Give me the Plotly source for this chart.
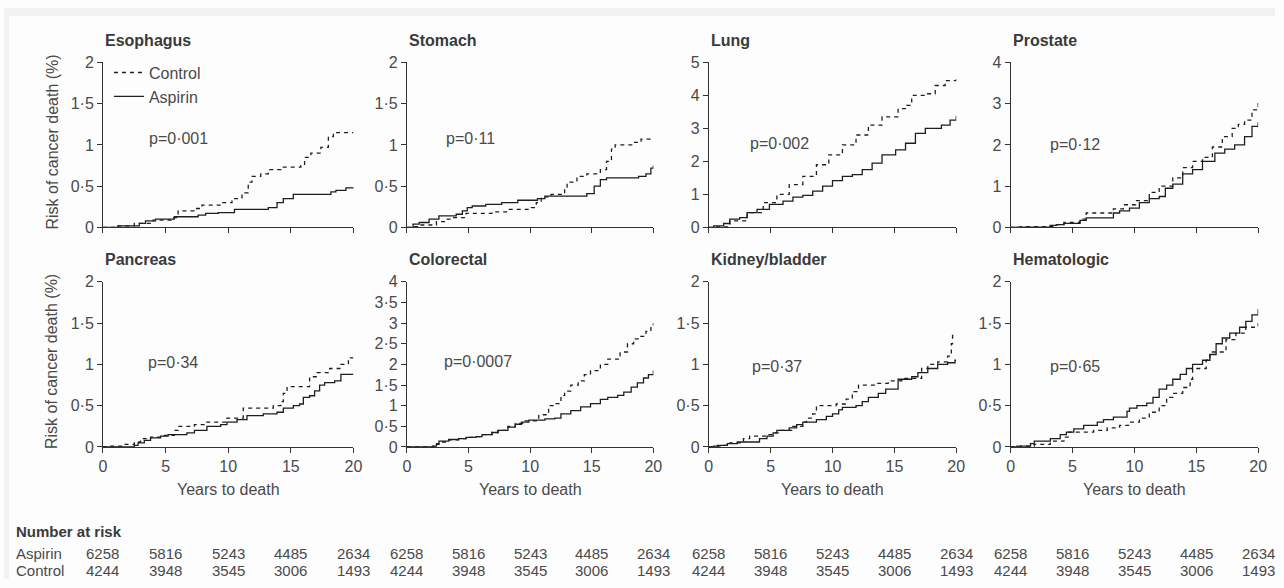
import plotly.graph_objects as go

# ---------------- data ----------------
cancers = ["Esophagus", "Stomach", "Lung", "Prostate",
           "Pancreas", "Colorectal", "Kidney/bladder", "Hematologic"]
p_values = ["p=0·001", "p=0·11", "p=0·002", "p=0·12",
            "p=0·34", "p=0·0007", "p=0·37", "p=0·65"]
y_max = [2, 2, 5, 4, 2, 4, 2, 2]
x_ticks = [0, 5, 10, 15, 20]

esophagus_control_years = [0, 1.2, 2.5, 4.0, 5.5, 6.0, 7.4, 7.9, 9.5, 10.3, 11.1, 11.6, 11.9, 12.6, 13.2, 14.2, 15.8, 16.1, 16.6, 17.4, 18.0, 18.4, 20]
esophagus_control_risk = [0, 0.02, 0.05, 0.09, 0.12, 0.2, 0.23, 0.27, 0.3, 0.35, 0.42, 0.55, 0.62, 0.65, 0.7, 0.73, 0.75, 0.85, 0.9, 0.97, 1.1, 1.15, 1.15]
esophagus_aspirin_years = [0, 1.2, 2.9, 3.4, 4.2, 5.7, 7.6, 8.2, 9.2, 10.5, 13.2, 13.9, 14.4, 15.2, 18.2, 18.6, 19.4, 20]
esophagus_aspirin_risk = [0, 0.02, 0.05, 0.08, 0.1, 0.13, 0.15, 0.17, 0.18, 0.22, 0.24, 0.3, 0.35, 0.4, 0.43, 0.45, 0.48, 0.49]

stomach_control_years = [0, 0.3, 1.0, 2.4, 3.2, 3.7, 4.8, 6.9, 8.2, 10.1, 10.5, 10.9, 11.7, 12.8, 13.0, 13.8, 14.6, 15.7, 16.2, 16.6, 16.9, 18.4, 19.0, 20]
stomach_control_risk = [0, 0.01, 0.03, 0.07, 0.1, 0.12, 0.17, 0.19, 0.22, 0.24, 0.3, 0.37, 0.4, 0.47, 0.55, 0.62, 0.65, 0.7, 0.8, 0.95, 1.0, 1.03, 1.07, 1.07]
stomach_aspirin_years = [0, 0.5, 1.0, 1.8, 2.6, 4.0, 4.5, 4.9, 5.3, 6.4, 7.7, 9.0, 10.6, 11.2, 14.6, 15.2, 15.7, 16.2, 18.8, 19.4, 19.8, 20]
stomach_aspirin_risk = [0, 0.04, 0.06, 0.1, 0.14, 0.16, 0.2, 0.24, 0.26, 0.28, 0.3, 0.33, 0.35, 0.38, 0.41, 0.5, 0.58, 0.6, 0.62, 0.65, 0.72, 0.75]

lung_control_years = [0, 0.4, 1.7, 3.1, 4.4, 5.5, 6.5, 7.6, 8.7, 9.7, 10.8, 11.9, 12.9, 14.0, 15.3, 16.0, 16.4, 17.5, 18.3, 19.1, 20]
lung_control_risk = [0, 0.02, 0.2, 0.45, 0.75, 1.0, 1.3, 1.55, 1.9, 2.2, 2.5, 2.8, 3.1, 3.35, 3.6, 3.7, 4.0, 4.05, 4.3, 4.45, 4.55]
lung_aspirin_years = [0, 0.4, 1.2, 1.7, 2.5, 3.1, 3.9, 4.9, 6.0, 6.8, 7.6, 8.4, 9.2, 10.0, 10.8, 11.6, 12.4, 13.2, 14.0, 15.1, 15.9, 16.7, 17.5, 18.8, 19.5, 20]
lung_aspirin_risk = [0, 0.05, 0.12, 0.25, 0.3, 0.45, 0.55, 0.7, 0.8, 0.92, 0.97, 1.1, 1.25, 1.42, 1.55, 1.6, 1.75, 1.95, 2.2, 2.35, 2.55, 2.85, 3.0, 3.1, 3.25, 3.38]

prostate_control_years = [0, 0.8, 3.0, 3.5, 4.3, 5.6, 6.1, 8.3, 9.1, 10.1, 11.2, 12.0, 13.1, 13.9, 14.7, 15.5, 16.3, 17.1, 17.9, 18.4, 18.9, 19.5, 20]
prostate_control_risk = [0, 0.02, 0.03, 0.07, 0.12, 0.2, 0.35, 0.45, 0.55, 0.65, 0.85, 1.0, 1.2, 1.45, 1.6, 1.7, 1.95, 2.2, 2.4, 2.5, 2.6, 2.85, 3.05]
prostate_aspirin_years = [0, 0.5, 3.2, 3.7, 4.3, 5.6, 6.1, 8.3, 8.8, 9.6, 10.4, 11.2, 12.0, 12.5, 13.1, 13.9, 14.7, 15.5, 16.5, 17.3, 18.1, 18.9, 19.5, 20]
prostate_aspirin_risk = [0, 0.01, 0.05, 0.07, 0.1, 0.17, 0.23, 0.35, 0.4, 0.47, 0.6, 0.7, 0.75, 0.95, 1.05, 1.3, 1.4, 1.6, 1.8, 1.9, 2.0, 2.2, 2.45, 2.55]

pancreas_control_years = [0, 0.4, 1.7, 2.5, 3.0, 3.8, 4.9, 5.7, 6.0, 7.3, 8.3, 9.9, 11.2, 13.6, 14.2, 14.4, 14.7, 16.5, 17.1, 18.1, 19.0, 19.6, 20]
pancreas_control_risk = [0, 0.01, 0.03, 0.06, 0.1, 0.12, 0.14, 0.2, 0.25, 0.27, 0.3, 0.35, 0.47, 0.5, 0.55, 0.65, 0.73, 0.85, 0.9, 0.95, 1.0, 1.08, 1.08]
pancreas_aspirin_years = [0, 2.5, 2.8, 3.3, 3.8, 4.6, 5.2, 6.7, 7.3, 8.3, 9.4, 9.9, 10.7, 11.5, 12.8, 13.9, 14.4, 15.2, 15.7, 16.0, 16.5, 16.9, 17.3, 17.7, 18.5, 19.0, 20]
pancreas_aspirin_risk = [0, 0.02, 0.05, 0.08, 0.11, 0.13, 0.15, 0.17, 0.2, 0.25, 0.27, 0.3, 0.33, 0.38, 0.4, 0.42, 0.47, 0.5, 0.52, 0.6, 0.62, 0.68, 0.75, 0.78, 0.8, 0.88, 0.88]

colorectal_control_years = [0, 2.1, 2.4, 2.6, 3.4, 4.2, 4.8, 5.6, 6.1, 6.9, 7.4, 8.2, 8.8, 9.6, 10.7, 11.5, 12.0, 12.5, 12.8, 13.3, 13.9, 14.4, 14.9, 15.7, 16.3, 17.3, 17.9, 18.4, 18.9, 19.4, 19.8, 20]
colorectal_control_risk = [0, 0.01, 0.06, 0.12, 0.17, 0.2, 0.23, 0.25, 0.3, 0.35, 0.4, 0.5, 0.57, 0.63, 0.78, 1.0, 1.05, 1.25, 1.35, 1.5, 1.6, 1.75, 1.85, 2.0, 2.13, 2.3, 2.5, 2.62, 2.68, 2.8, 2.95, 3.0]
colorectal_aspirin_years = [0, 2.1, 2.4, 2.6, 3.4, 4.2, 4.8, 5.6, 6.1, 6.9, 7.4, 8.2, 8.8, 9.3, 9.9, 11.2, 12.0, 12.5, 13.3, 14.1, 14.9, 15.7, 16.3, 17.1, 17.6, 18.2, 18.7, 19.2, 19.6, 20]
colorectal_aspirin_risk = [0, 0.02, 0.08, 0.14, 0.18, 0.2, 0.23, 0.25, 0.3, 0.35, 0.4, 0.48, 0.55, 0.6, 0.65, 0.68, 0.7, 0.8, 0.88, 0.97, 1.05, 1.15, 1.2, 1.25, 1.33, 1.45, 1.55, 1.67, 1.75, 1.85]

kidney_control_years = [0, 0.7, 1.7, 2.8, 3.3, 4.7, 5.2, 5.7, 6.8, 7.6, 7.9, 8.4, 8.7, 10.3, 11.1, 11.6, 12.1, 13.5, 14.5, 15.6, 17.2, 17.7, 18.5, 19.3, 19.6, 19.7, 20]
kidney_control_risk = [0, 0.02, 0.05, 0.1, 0.13, 0.15, 0.17, 0.2, 0.25, 0.3, 0.35, 0.4, 0.5, 0.52, 0.58, 0.67, 0.75, 0.77, 0.8, 0.83, 0.95, 1.0, 1.03, 1.1, 1.25, 1.35, 1.35]
kidney_aspirin_years = [0, 0.4, 0.9, 1.5, 2.3, 4.1, 4.7, 5.2, 5.5, 6.5, 7.1, 7.6, 8.7, 9.5, 10.0, 10.5, 10.8, 11.9, 12.4, 12.9, 13.7, 14.3, 15.3, 16.4, 16.9, 17.7, 18.5, 19.3, 19.9, 20]
kidney_aspirin_risk = [0, 0.01, 0.02, 0.04, 0.06, 0.1, 0.13, 0.17, 0.2, 0.23, 0.27, 0.3, 0.33, 0.37, 0.4, 0.45, 0.48, 0.5, 0.55, 0.6, 0.65, 0.7, 0.82, 0.85, 0.9, 0.95, 1.0, 1.02, 1.05, 1.05]

hematologic_control_years = [0, 0.8, 1.9, 3.2, 4.3, 4.7, 6.7, 7.8, 8.8, 9.6, 10.4, 11.2, 12.0, 12.6, 13.1, 13.9, 14.5, 14.7, 15.8, 16.1, 17.4, 18.2, 19.0, 20]
hematologic_control_risk = [0, 0.01, 0.03, 0.07, 0.12, 0.18, 0.2, 0.23, 0.26, 0.3, 0.35, 0.42, 0.5, 0.6, 0.65, 0.72, 0.82, 0.95, 1.05, 1.15, 1.3, 1.38, 1.45, 1.5]
hematologic_aspirin_years = [0, 0.5, 1.6, 1.9, 3.2, 4.0, 4.5, 5.1, 5.9, 7.0, 7.5, 8.3, 9.4, 9.6, 10.2, 11.0, 11.5, 12.0, 12.6, 13.1, 13.7, 14.2, 14.7, 15.5, 16.1, 16.6, 17.1, 17.7, 18.5, 19.0, 19.5, 20]
hematologic_aspirin_risk = [0, 0.01, 0.04, 0.07, 0.1, 0.15, 0.18, 0.22, 0.26, 0.3, 0.33, 0.36, 0.43, 0.47, 0.5, 0.53, 0.6, 0.7, 0.75, 0.82, 0.88, 0.95, 1.0, 1.05, 1.12, 1.25, 1.32, 1.38, 1.45, 1.52, 1.6, 1.67]

risk_years = [0, 5, 10, 15, 20]
aspirin_at_risk = [6258, 5816, 5243, 4485, 2634]
control_at_risk = [4244, 3948, 3545, 3006, 1493]

control_series = [
    (esophagus_control_years, esophagus_control_risk),
    (stomach_control_years, stomach_control_risk),
    (lung_control_years, lung_control_risk),
    (prostate_control_years, prostate_control_risk),
    (pancreas_control_years, pancreas_control_risk),
    (colorectal_control_years, colorectal_control_risk),
    (kidney_control_years, kidney_control_risk),
    (hematologic_control_years, hematologic_control_risk),
]
aspirin_series = [
    (esophagus_aspirin_years, esophagus_aspirin_risk),
    (stomach_aspirin_years, stomach_aspirin_risk),
    (lung_aspirin_years, lung_aspirin_risk),
    (prostate_aspirin_years, prostate_aspirin_risk),
    (pancreas_aspirin_years, pancreas_aspirin_risk),
    (colorectal_aspirin_years, colorectal_aspirin_risk),
    (kidney_aspirin_years, kidney_aspirin_risk),
    (hematologic_aspirin_years, hematologic_aspirin_risk),
]

# ---------------- layout helpers ----------------
W, H = 1284, 588
FONT = "Liberation Sans, Arial, sans-serif"
TXT = "#4a4a4a"
LINE = "#1e1e1e"
col_px = [(100, 353), (407, 656), (712, 962), (1017, 1267)]
row_px = [(56, 226), (282, 452)]
title_y_px = [33, 259]
p_pos = [(6.0, 1.08), (5.2, 1.08), (5.7, 2.53), (5.2, 2.0),
         (5.6, 1.02), (5.8, 2.06), (5.5, 0.98), (5.2, 0.98)]


def fmt(v):
    s = ("%g" % v)
    return s.replace(".", "·")


fig = go.Figure()
layout = {}
annotations = []

for i, name in enumerate(cancers):
    r, c = divmod(i, 4)
    suf = "" if i == 0 else str(i + 1)
    x0, x1 = col_px[c]
    y0, y1 = row_px[r]
    step = 0.5 if y_max[i] in (2,) or name == "Colorectal" else 1
    yt = [k * step for k in range(int(round(y_max[i] / step)) + 1)]
    layout["xaxis" + suf] = dict(
        domain=[x0 / W, x1 / W], anchor="y" + suf, range=[0, 20],
        tickvals=x_ticks, showticklabels=(r == 1), ticks="outside", ticklen=5,
        tickcolor="#333", tickwidth=1, showline=True, linecolor="#333", linewidth=1,
        showgrid=False, zeroline=False,
        tickfont=dict(family=FONT, size=16, color=TXT), fixedrange=True)
    layout["yaxis" + suf] = dict(
        domain=[1 - y1 / H, 1 - y0 / H], anchor="x" + suf, range=[0, y_max[i]],
        tickvals=yt, ticktext=[fmt(v) for v in yt], ticks="outside", ticklen=5,
        tickcolor="#333", tickwidth=1, showline=True, linecolor="#333", linewidth=1,
        showgrid=False, zeroline=False,
        tickfont=dict(family=FONT, size=16, color=TXT), fixedrange=True)

    cx, cy = control_series[i]
    ax, ay = aspirin_series[i]
    fig.add_trace(go.Scatter(
        x=cx, y=cy, mode="lines", line=dict(color=LINE, width=1.3, dash="4px,4px", shape="hv"),
        name="Control", showlegend=(i == 0), xaxis="x" + suf, yaxis="y" + suf,
        hoverinfo="skip"))
    fig.add_trace(go.Scatter(
        x=ax, y=ay, mode="lines", line=dict(color=LINE, width=1.3, shape="hv"),
        name="Aspirin", showlegend=(i == 0), xaxis="x" + suf, yaxis="y" + suf,
        hoverinfo="skip"))

    annotations.append(dict(
        text="<b>%s</b>" % name, xref="x" + suf + " domain", x=0, xanchor="left",
        yref="paper", y=1 - title_y_px[r] / H, yanchor="middle", showarrow=False,
        font=dict(family=FONT, size=16, color="#3a3a3a")))
    annotations.append(dict(
        text=p_values[i], xref="x" + suf, yref="y" + suf, x=p_pos[i][0], y=p_pos[i][1],
        showarrow=False, font=dict(family=FONT, size=16, color=TXT)))
    if r == 1:
        annotations.append(dict(
            text="Years to death", xref="x" + suf + " domain", x=0.5, xanchor="center",
            yref="paper", y=1 - 496 / H, yanchor="middle", showarrow=False,
            font=dict(family=FONT, size=16, color=TXT)))
        for yr, a_n, c_n in zip(risk_years, aspirin_at_risk, control_at_risk):
            annotations.append(dict(
                text=str(a_n), xref="x" + suf, x=yr, xanchor="center",
                yref="paper", y=1 - 562 / H, yanchor="middle", showarrow=False,
                font=dict(family=FONT, size=15, color=TXT)))
            annotations.append(dict(
                text=str(c_n), xref="x" + suf, x=yr, xanchor="center",
                yref="paper", y=1 - 579 / H, yanchor="middle", showarrow=False,
                font=dict(family=FONT, size=15, color=TXT)))

for yc in [(row_px[0][0] + row_px[0][1]) / 2 - 3, (row_px[1][0] + row_px[1][1]) / 2 - 3]:
    annotations.append(dict(
        text="Risk of cancer death (%)", xref="paper", x=48 / W, yref="paper",
        y=1 - yc / H, textangle=-90, showarrow=False, xanchor="center", yanchor="middle",
        font=dict(family=FONT, size=16, color=TXT)))

annotations.append(dict(text="<b>Number at risk</b>", xref="paper", x=10 / W, xanchor="left",
                        yref="paper", y=1 - 539 / H, yanchor="middle", showarrow=False,
                        font=dict(family=FONT, size=15, color="#3a3a3a")))
annotations.append(dict(text="Aspirin", xref="paper", x=10 / W, xanchor="left",
                        yref="paper", y=1 - 562 / H, yanchor="middle", showarrow=False,
                        font=dict(family=FONT, size=15, color=TXT)))
annotations.append(dict(text="Control", xref="paper", x=10 / W, xanchor="left",
                        yref="paper", y=1 - 579 / H, yanchor="middle", showarrow=False,
                        font=dict(family=FONT, size=15, color=TXT)))

shapes = [
    dict(type="rect", xref="paper", yref="paper", x0=0, x1=1, y0=1 - 8 / H, y1=1,
         fillcolor="#f1f1f1", line=dict(width=0), layer="below"),
    dict(type="rect", xref="paper", yref="paper", x0=0, x1=5 / W, y0=0, y1=1,
         fillcolor="#f3f3f3", line=dict(width=0), layer="below"),
]

fig.update_layout(
    **layout,
    width=W, height=H, margin=dict(l=0, r=0, t=0, b=0),
    paper_bgcolor="#fdfdfd", plot_bgcolor="rgba(0,0,0,0)",
    annotations=annotations, shapes=shapes,
    showlegend=True,
    legend=dict(x=106 / W, y=1 - 49 / H, xanchor="left", yanchor="top",
                bgcolor="rgba(0,0,0,0)", borderwidth=0, itemwidth=30,
                tracegroupgap=0, traceorder="normal",
                font=dict(family=FONT, size=16, color=TXT)),
    font=dict(family=FONT, color=TXT),
)

fig.write_html("out.html")
